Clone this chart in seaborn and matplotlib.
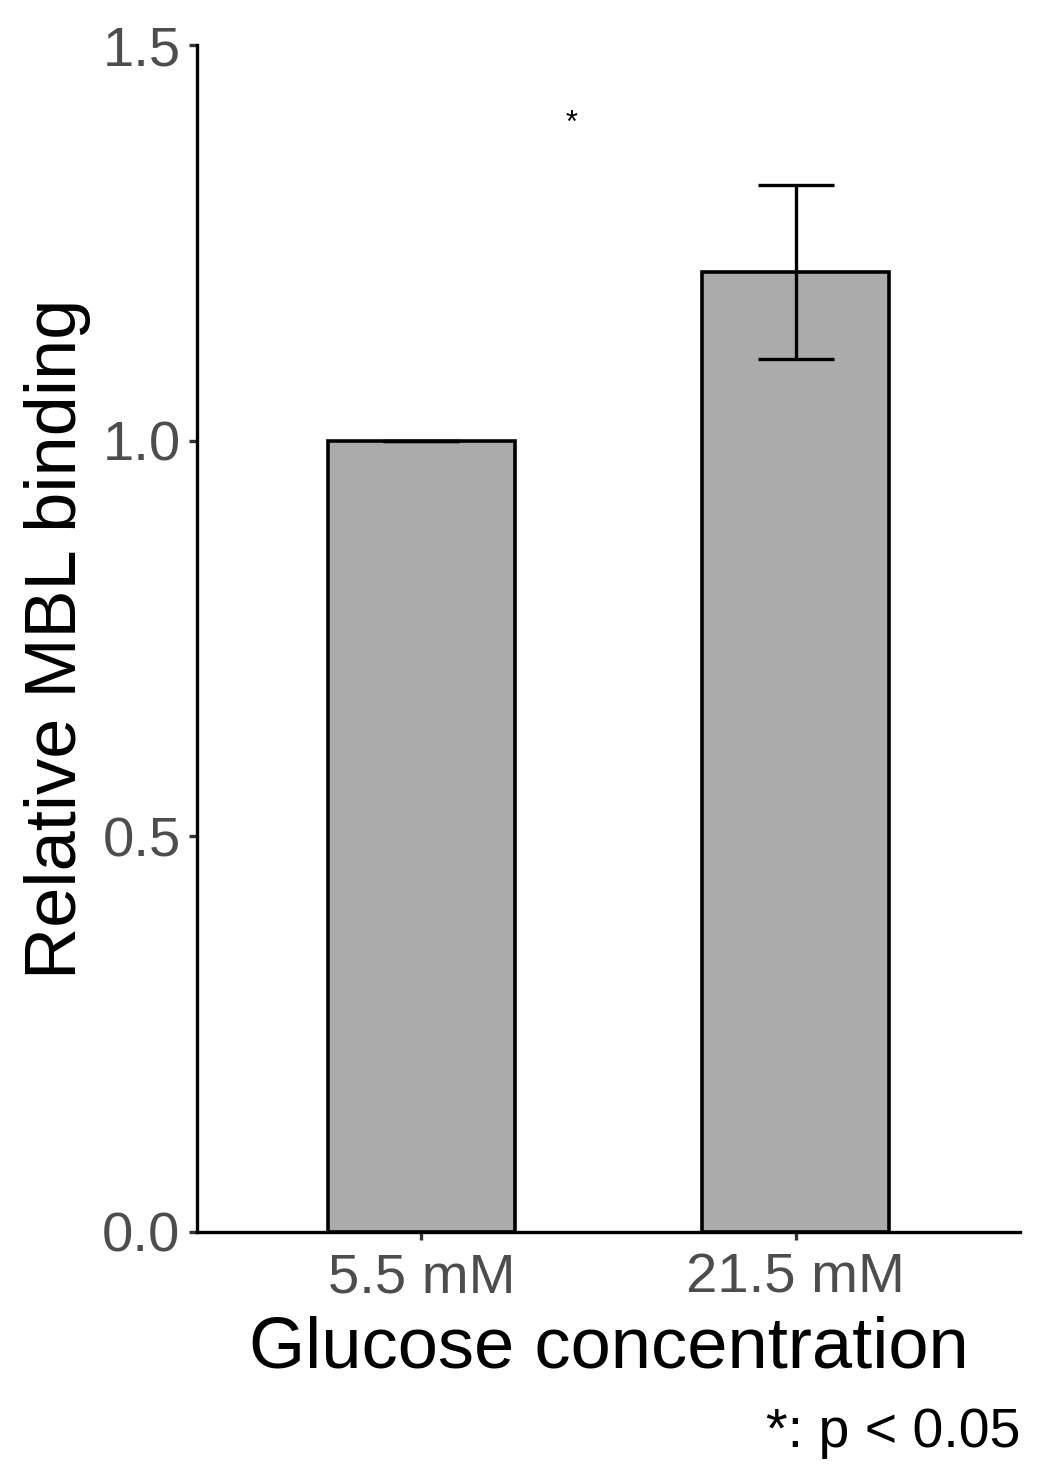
import numpy as np
import pandas as pd
import matplotlib
matplotlib.use("Agg")
import matplotlib.pyplot as plt
import seaborn as sns

# values
concentrations = ["5.5 mM", "21.5 mM"]
mbl_binding = [1.00, 1.213]
mbl_se = [0.0, 0.11]
y_ticks = [0.0, 0.5, 1.0, 1.5]
sig_label = "*"
sig_pos = (0.4, 1.40)
caption = "*: p < 0.05"

sns.set_theme(style="white")
plt.rcParams["font.family"] = ["Liberation Sans", "DejaVu Sans"]

df = pd.DataFrame({"conc": concentrations, "binding": mbl_binding, "se": mbl_se})

W, H = 1044, 1471
fig = plt.figure(figsize=(W / 100, H / 100), dpi=100)
ax = fig.add_axes([197 / W, 1 - 1232 / H, (1020 - 197) / W, (1232 - 45) / H])

lw = 2.4
sns.barplot(data=df, x="conc", y="binding", color="#ABABAB", saturation=1,
            width=0.5, edgecolor="black", linewidth=2.6, errorbar=None, ax=ax)
ax.errorbar(x=np.arange(len(df)), y=df["binding"], yerr=df["se"], fmt="none",
            ecolor="black", elinewidth=lw, capsize=27.5, capthick=lw)
ax.text(sig_pos[0], sig_pos[1], sig_label, ha="center", va="center", fontsize=22, color="black")

ax.set_xlim(-0.6, 1.6)
ax.set_ylim(0, 1.5)
ax.set_yticks(y_ticks)
ax.set_yticklabels([f"{t:.1f}" for t in y_ticks])

for side in ["top", "right"]:
    ax.spines[side].set_visible(False)
for side in ["left", "bottom"]:
    ax.spines[side].set_linewidth(lw)
    ax.spines[side].set_color("black")

ax.tick_params(axis="both", direction="out", length=5.8, width=lw, color="#333333",
               labelsize=40.5, labelcolor="#4D4D4D", left=True, bottom=True)
ax.tick_params(axis="y", pad=6)
ax.tick_params(axis="x", pad=9)

ax.set_xlabel("Glucose concentration", fontsize=52, color="black", labelpad=8)
ax.set_ylabel("Relative MBL binding", fontsize=52, color="black", labelpad=8)

fig.text(1020 / W, 1 - 1447 / H, caption, ha="right", va="baseline", fontsize=40, color="black")

fig.savefig("out.png", dpi=100)
